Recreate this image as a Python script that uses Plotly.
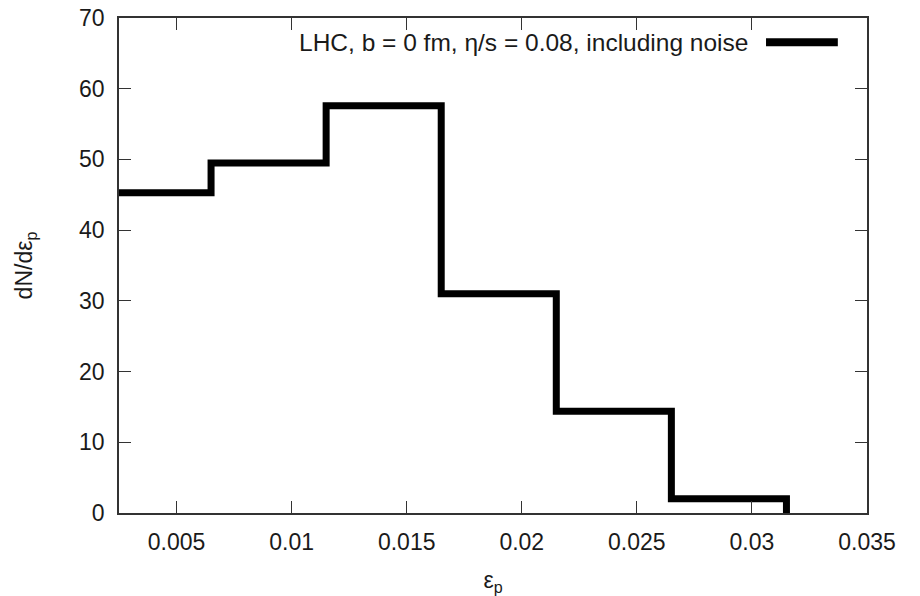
import plotly.graph_objects as go

# Histogram bin edges (eps_p) and heights (dN/d eps_p)
bin_edges = [0.0015, 0.0065, 0.0115, 0.0165, 0.0215, 0.0265, 0.0315]
bin_values = [45.3, 49.5, 57.6, 31.0, 14.4, 2.0]
legend_label = "LHC, b = 0 fm, η/s = 0.08, including noise"
x_ticks = [0.005, 0.01, 0.015, 0.02, 0.025, 0.03, 0.035]
x_tick_text = ["0.005", "0.01", "0.015", "0.02", "0.025", "0.03", "0.035"]
y_ticks = [0, 10, 20, 30, 40, 50, 60, 70]

FONT = "Liberation Sans, Arial, Helvetica, sans-serif"
INK = "#1a1a1a"

x_pts = list(bin_edges)
y_pts = list(bin_values) + [0]

fig = go.Figure()
fig.add_trace(go.Scatter(
    x=x_pts, y=y_pts, mode="lines", line=dict(color="black", width=7, shape="hv"),
    name=legend_label, showlegend=False, hoverinfo="skip",
))

axis_common = dict(
    showgrid=False, zeroline=False, showline=True, linecolor="#333333", linewidth=1.5,
    mirror="allticks", ticks="inside", ticklen=12, tickwidth=1, tickcolor="#333333",
    tickfont=dict(family=FONT, size=23, color=INK), automargin=False,
)

fig.update_layout(
    width=920, height=596,
    margin=dict(l=119, r=53, t=18, b=83),
    paper_bgcolor="white", plot_bgcolor="white",
    font=dict(family=FONT, size=23, color=INK),
    xaxis=dict(range=[0.0025, 0.035], tickvals=x_ticks, ticktext=x_tick_text,
               title=dict(text="ε<sub>p</sub>", standoff=20, font=dict(size=23)),
               ticklabelstandoff=8, **axis_common),
    yaxis=dict(range=[0, 70], tickvals=y_ticks,
               title=dict(text="dN/dε<sub>p</sub>", standoff=40, font=dict(size=23)),
               ticklabelstandoff=8, **axis_common),
)

# Gnuplot-style key: text followed by a line sample, top-right inside the plot
fig.add_annotation(
    xref="paper", yref="paper", x=0.844, y=0.951, xanchor="right", yanchor="middle",
    text=legend_label, showarrow=False, font=dict(family=FONT, size=24.5, color=INK),
)
fig.add_shape(
    type="line", xref="paper", yref="paper", x0=0.865, x1=0.961, y0=0.951, y1=0.951,
    line=dict(color="black", width=8),
)

fig.write_html("out.html", config={"displayModeBar": False},
               post_script="document.body.style.margin='0';")
